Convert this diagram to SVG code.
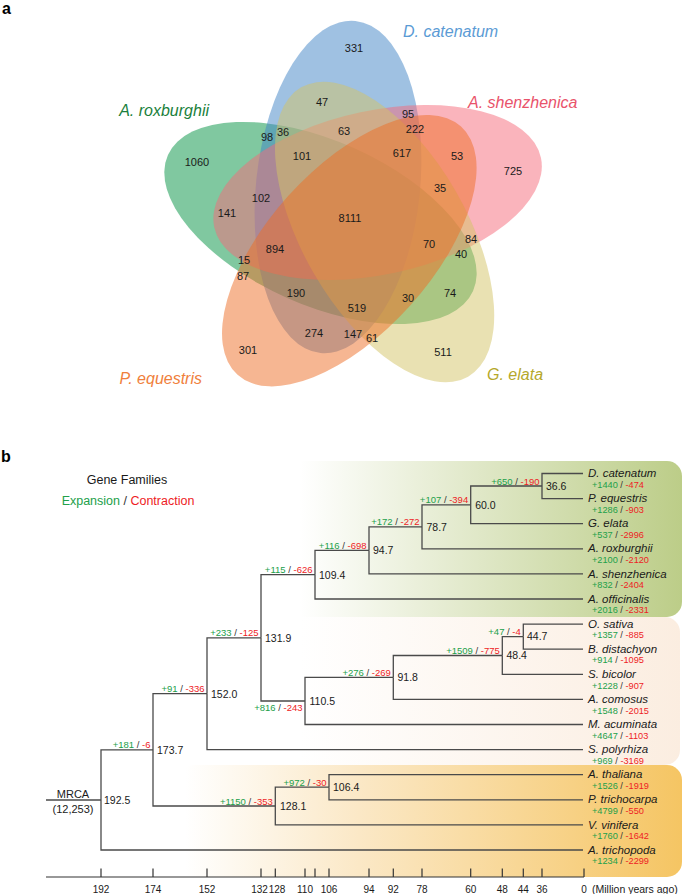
<svg xmlns="http://www.w3.org/2000/svg" width="685" height="894" viewBox="0 0 685 894">
<style>
text{font-family:"Liberation Sans",Arial,sans-serif;}
.pl{font-weight:bold;font-size:16px;fill:#000;}
.vl{font-style:italic;font-size:16px;}
.vn{font-size:11px;fill:#1a1a1a;text-anchor:middle;}
.el{fill-opacity:0.5;stroke:none;}
.br{fill:none;stroke:#4a4a4a;stroke-width:1.3;}
.nv{font-size:10.5px;fill:#1a1a1a;}
.bl{font-size:9.5px;text-anchor:end;}
.tip{font-size:11.5px;font-style:italic;fill:#1a1a1a;}
.st{font-size:9.2px;}
.g{fill:#22a04a;}
.r{fill:#ee1c25;}
.k{fill:#333;}
.ax{fill:none;stroke:#333;stroke-width:1.2;}
.tk{font-size:10px;fill:#1a1a1a;text-anchor:middle;}
</style>
<defs>
<linearGradient id="gGreen" gradientUnits="userSpaceOnUse" x1="300" y1="0" x2="682" y2="0">
<stop offset="0" stop-color="#ffffff"/>
<stop offset="1" stop-color="#bccd88"/>
</linearGradient>
<linearGradient id="gPeach" gradientUnits="userSpaceOnUse" x1="300" y1="0" x2="682" y2="0">
<stop offset="0" stop-color="#ffffff"/>
<stop offset="1" stop-color="#fbede0"/>
</linearGradient>
<linearGradient id="gOrange" gradientUnits="userSpaceOnUse" x1="185" y1="0" x2="682" y2="0">
<stop offset="0" stop-color="#ffffff"/>
<stop offset="0.35" stop-color="#fbe8c6"/>
<stop offset="1" stop-color="#f5c563"/>
</linearGradient>
</defs>
<rect width="685" height="894" fill="#ffffff"/>

<!-- panel a -->
<text class="pl" x="2" y="14" font-size="15">a</text>
<g id="venn">
<g id="set-roxburghii">
<ellipse class="el" fill="#019141" cx="320.5" cy="223" rx="82" ry="167" transform="rotate(-66 320.5 223)"/>
<text class="vl" x="209" y="116" text-anchor="end" fill="#1a7f3c">A. roxburghii</text>
</g>
<g id="set-catenatum">
<ellipse class="el" fill="#3f83c5" cx="338" cy="187" rx="82" ry="167" transform="rotate(6 338 187)"/>
<text class="vl" x="403" y="37" fill="#5b9bd5">D. catenatum</text>
</g>
<g id="set-shenzhenica">
<ellipse class="el" fill="#f56979" cx="377.6" cy="192.5" rx="82" ry="167" transform="rotate(78 377.6 192.5)"/>
<text class="vl" x="468" y="108" fill="#e9536b">A. shenzhenica</text>
</g>
<g id="set-elata">
<ellipse class="el" fill="#d3c365" cx="384.6" cy="232" rx="82" ry="167" transform="rotate(150 384.6 232)"/>
<text class="vl" x="487" y="380" fill="#b5a82b">G. elata</text>
</g>
<g id="set-equestris">
<ellipse class="el" fill="#ed6d26" cx="349.3" cy="250.7" rx="82" ry="167" transform="rotate(222 349.3 250.7)"/>
<text class="vl" x="202" y="384" text-anchor="end" fill="#f0803c">P. equestris</text>
</g>
<g id="venn-counts">
<text class="vn" x="354" y="52">331</text>
<text class="vn" x="322" y="106">47</text>
<text class="vn" x="408" y="118">95</text>
<text class="vn" x="415" y="133">222</text>
<text class="vn" x="267" y="141">98</text>
<text class="vn" x="283" y="136">36</text>
<text class="vn" x="344" y="135">63</text>
<text class="vn" x="302" y="160">101</text>
<text class="vn" x="402" y="157">617</text>
<text class="vn" x="457" y="160">53</text>
<text class="vn" x="513" y="175">725</text>
<text class="vn" x="197" y="166">1060</text>
<text class="vn" x="440" y="192">35</text>
<text class="vn" x="261" y="202">102</text>
<text class="vn" x="227" y="217">141</text>
<text class="vn" x="350" y="222">8111</text>
<text class="vn" x="275" y="253">894</text>
<text class="vn" x="429" y="248">70</text>
<text class="vn" x="471" y="243">84</text>
<text class="vn" x="461" y="258">40</text>
<text class="vn" x="244" y="264">15</text>
<text class="vn" x="243" y="280">87</text>
<text class="vn" x="296" y="297">190</text>
<text class="vn" x="450" y="297">74</text>
<text class="vn" x="408" y="302">30</text>
<text class="vn" x="357" y="312">519</text>
<text class="vn" x="314" y="337">274</text>
<text class="vn" x="353" y="338">147</text>
<text class="vn" x="372" y="342">61</text>
<text class="vn" x="248" y="354">301</text>
<text class="vn" x="443" y="356">511</text>
</g>
</g>

<!-- panel b -->
<text class="pl" x="1" y="462">b</text>
<g id="backgrounds">
<rect x="180" y="461" width="502" height="156" rx="15" fill="url(#gGreen)"/>
<rect x="180" y="617" width="500" height="148" rx="15" fill="url(#gPeach)"/>
<rect x="180" y="765" width="502" height="112" rx="15" fill="url(#gOrange)"/>
</g>
<g id="legend">
<text x="127" y="483.5" font-size="12.5" text-anchor="middle" fill="#1a1a1a">Gene Families</text>
<text x="128" y="504.5" font-size="12.5" text-anchor="middle"><tspan class="g">Expansion</tspan><tspan class="k"> / </tspan><tspan class="r">Contraction</tspan></text>
</g>

<g id="connectors">
<path class="br" d="M46,800 H101"/>
<path class="br" d="M101,800 V749.9 H153"/>
<path class="br" d="M101,800 V850 H583"/>
<path class="br" d="M153,749.9 V693.7 H207"/>
<path class="br" d="M153,749.9 V806 H275.3"/>
<path class="br" d="M207,693.7 V637.8 H261"/>
<path class="br" d="M207,693.7 V749.6 H583"/>
<path class="br" d="M261,637.8 V574.7 H315"/>
<path class="br" d="M261,637.8 V701 H305"/>
<path class="br" d="M315,574.7 V550.4 H369"/>
<path class="br" d="M315,574.7 V599 H583"/>
<path class="br" d="M369,550.4 V526.9 H422"/>
<path class="br" d="M369,550.4 V573.9 H583"/>
<path class="br" d="M422,526.9 V504.9 H470.7"/>
<path class="br" d="M422,526.9 V548.8 H583"/>
<path class="br" d="M470.7,504.9 V486 H542"/>
<path class="br" d="M470.7,504.9 V523.7 H583"/>
<path class="br" d="M542,486 V473.5 H583"/>
<path class="br" d="M542,486 V498.6 H583"/>
<path class="br" d="M305,701 V677.4 H393.3"/>
<path class="br" d="M305,701 V724.5 H583"/>
<path class="br" d="M393.3,677.4 V655.5 H502.3"/>
<path class="br" d="M393.3,677.4 V699.4 H583"/>
<path class="br" d="M502.3,655.5 V636.6 H523.3"/>
<path class="br" d="M502.3,655.5 V674.3 H583"/>
<path class="br" d="M523.3,636.6 V624.1 H583"/>
<path class="br" d="M523.3,636.6 V649.2 H583"/>
<path class="br" d="M275.3,806 V787.2 H329"/>
<path class="br" d="M275.3,806 V824.9 H583"/>
<path class="br" d="M329,787.2 V774.7 H583"/>
<path class="br" d="M329,787.2 V799.8 H583"/>
</g>

<g id="branch-labels">
<text class="bl" x="150.5" y="748.4"><tspan class="g">+181</tspan><tspan class="k"> / </tspan><tspan class="r">-6</tspan></text>
<text class="bl" x="204.5" y="692.2"><tspan class="g">+91</tspan><tspan class="k"> / </tspan><tspan class="r">-336</tspan></text>
<text class="bl" x="258.5" y="636.3"><tspan class="g">+233</tspan><tspan class="k"> / </tspan><tspan class="r">-125</tspan></text>
<text class="bl" x="312.5" y="573.2"><tspan class="g">+115</tspan><tspan class="k"> / </tspan><tspan class="r">-626</tspan></text>
<text class="bl" x="366.5" y="548.9"><tspan class="g">+116</tspan><tspan class="k"> / </tspan><tspan class="r">-698</tspan></text>
<text class="bl" x="419.5" y="525.4"><tspan class="g">+172</tspan><tspan class="k"> / </tspan><tspan class="r">-272</tspan></text>
<text class="bl" x="468.2" y="503.4"><tspan class="g">+107</tspan><tspan class="k"> / </tspan><tspan class="r">-394</tspan></text>
<text class="bl" x="539.5" y="484.5"><tspan class="g">+650</tspan><tspan class="k"> / </tspan><tspan class="r">-190</tspan></text>
<text class="bl" x="302.5" y="711"><tspan class="g">+816</tspan><tspan class="k"> / </tspan><tspan class="r">-243</tspan></text>
<text class="bl" x="390.8" y="675.9"><tspan class="g">+276</tspan><tspan class="k"> / </tspan><tspan class="r">-269</tspan></text>
<text class="bl" x="499.8" y="654"><tspan class="g">+1509</tspan><tspan class="k"> / </tspan><tspan class="r">-775</tspan></text>
<text class="bl" x="520.8" y="635.1"><tspan class="g">+47</tspan><tspan class="k"> / </tspan><tspan class="r">-4</tspan></text>
<text class="bl" x="272.8" y="804.5"><tspan class="g">+1150</tspan><tspan class="k"> / </tspan><tspan class="r">-353</tspan></text>
<text class="bl" x="326.5" y="785.7"><tspan class="g">+972</tspan><tspan class="k"> / </tspan><tspan class="r">-30</tspan></text>
</g>

<g id="internal-nodes">
<g id="root"><text x="73" y="798" font-size="11" text-anchor="middle" fill="#1a1a1a">MRCA</text><text x="73" y="813" font-size="11" text-anchor="middle" fill="#1a1a1a">(12,253)</text><text class="nv" x="104" y="803.8">192.5</text></g>
<g id="n173"><text class="nv" x="157" y="753.7">173.7</text></g>
<g id="n152"><text class="nv" x="211" y="697.5">152.0</text></g>
<g id="n131"><text class="nv" x="265" y="641.6">131.9</text></g>
<g id="n109"><text class="nv" x="319" y="578.5">109.4</text></g>
<g id="n94"><text class="nv" x="373" y="554.2">94.7</text></g>
<g id="n78"><text class="nv" x="426.5" y="530.7">78.7</text></g>
<g id="n60"><text class="nv" x="475.2" y="508.7">60.0</text></g>
<g id="n36"><text class="nv" x="546" y="489.8">36.6</text></g>
<g id="n110"><text class="nv" x="309.5" y="704.8">110.5</text></g>
<g id="n91"><text class="nv" x="397.5" y="681.2">91.8</text></g>
<g id="n48"><text class="nv" x="506.5" y="659.3">48.4</text></g>
<g id="n44"><text class="nv" x="527" y="640.4">44.7</text></g>
<g id="n128"><text class="nv" x="280" y="809.8">128.1</text></g>
<g id="n106"><text class="nv" x="333" y="791">106.4</text></g>
</g>

<g id="tips">
<g id="t-catenatum"><text class="tip" x="588" y="477.1">D. catenatum</text><text class="st" x="592" y="487.7"><tspan class="g">+1440</tspan><tspan class="k"> / </tspan><tspan class="r">-474</tspan></text></g>
<g id="t-equestris"><text class="tip" x="588" y="502.2">P. equestris</text><text class="st" x="592" y="512.8"><tspan class="g">+1286</tspan><tspan class="k"> / </tspan><tspan class="r">-903</tspan></text></g>
<g id="t-elata"><text class="tip" x="588" y="527.3">G. elata</text><text class="st" x="592" y="537.9"><tspan class="g">+537</tspan><tspan class="k"> / </tspan><tspan class="r">-2996</tspan></text></g>
<g id="t-roxburghii"><text class="tip" x="588" y="552.4">A. roxburghii</text><text class="st" x="592" y="563"><tspan class="g">+2100</tspan><tspan class="k"> / </tspan><tspan class="r">-2120</tspan></text></g>
<g id="t-shenzhenica"><text class="tip" x="588" y="577.5">A. shenzhenica</text><text class="st" x="592" y="588.1"><tspan class="g">+832</tspan><tspan class="k"> / </tspan><tspan class="r">-2404</tspan></text></g>
<g id="t-officinalis"><text class="tip" x="588" y="602.6">A. officinalis</text><text class="st" x="592" y="613.2"><tspan class="g">+2016</tspan><tspan class="k"> / </tspan><tspan class="r">-2331</tspan></text></g>
<g id="t-sativa"><text class="tip" x="588" y="627.7">O. sativa</text><text class="st" x="592" y="638.3"><tspan class="g">+1357</tspan><tspan class="k"> / </tspan><tspan class="r">-885</tspan></text></g>
<g id="t-distachyon"><text class="tip" x="588" y="652.8">B. distachyon</text><text class="st" x="592" y="663.4"><tspan class="g">+914</tspan><tspan class="k"> / </tspan><tspan class="r">-1095</tspan></text></g>
<g id="t-bicolor"><text class="tip" x="588" y="677.9">S. bicolor</text><text class="st" x="592" y="688.5"><tspan class="g">+1228</tspan><tspan class="k"> / </tspan><tspan class="r">-907</tspan></text></g>
<g id="t-comosus"><text class="tip" x="588" y="703">A. comosus</text><text class="st" x="592" y="713.6"><tspan class="g">+1548</tspan><tspan class="k"> / </tspan><tspan class="r">-2015</tspan></text></g>
<g id="t-acuminata"><text class="tip" x="588" y="728.1">M. acuminata</text><text class="st" x="592" y="738.7"><tspan class="g">+4647</tspan><tspan class="k"> / </tspan><tspan class="r">-1103</tspan></text></g>
<g id="t-polyrhiza"><text class="tip" x="588" y="753.2">S. polyrhiza</text><text class="st" x="592" y="763.8"><tspan class="g">+969</tspan><tspan class="k"> / </tspan><tspan class="r">-3169</tspan></text></g>
<g id="t-thaliana"><text class="tip" x="588" y="778.3">A. thaliana</text><text class="st" x="592" y="788.9"><tspan class="g">+1526</tspan><tspan class="k"> / </tspan><tspan class="r">-1919</tspan></text></g>
<g id="t-trichocarpa"><text class="tip" x="588" y="803.4">P. trichocarpa</text><text class="st" x="592" y="814"><tspan class="g">+4799</tspan><tspan class="k"> / </tspan><tspan class="r">-550</tspan></text></g>
<g id="t-vinifera"><text class="tip" x="588" y="828.5">V. vinifera</text><text class="st" x="592" y="839.1"><tspan class="g">+1760</tspan><tspan class="k"> / </tspan><tspan class="r">-1642</tspan></text></g>
<g id="t-trichopoda"><text class="tip" x="588" y="853.6">A. trichopoda</text><text class="st" x="592" y="864.2"><tspan class="g">+1234</tspan><tspan class="k"> / </tspan><tspan class="r">-2299</tspan></text></g>
</g>

<g id="axis">
<path class="ax" d="M46,877 H584 M101,868.5 V877 M153,868.5 V877 M207,868.5 V877 M261,868.5 V877 M275.3,868.5 V877 M305,868.5 V877 M315,868.5 V877 M329,868.5 V877 M369,868.5 V877 M393.3,868.5 V877 M422,868.5 V877 M470.7,868.5 V877 M502.3,868.5 V877 M523.3,868.5 V877 M542,868.5 V877 M584,868.5 V877"/>
<text class="tk" x="101" y="892.5">192</text>
<text class="tk" x="153" y="892.5">174</text>
<text class="tk" x="207" y="892.5">152</text>
<text class="tk" x="259.5" y="892.5">132</text>
<text class="tk" x="277" y="892.5">128</text>
<text class="tk" x="305" y="892.5">110</text>
<text class="tk" x="329" y="892.5">106</text>
<text class="tk" x="369" y="892.5">94</text>
<text class="tk" x="393.3" y="892.5">92</text>
<text class="tk" x="422" y="892.5">78</text>
<text class="tk" x="470.7" y="892.5">60</text>
<text class="tk" x="502.3" y="892.5">48</text>
<text class="tk" x="523.3" y="892.5">44</text>
<text class="tk" x="542" y="892.5">36</text>
<text class="tk" x="584" y="892.5">0</text>
<text x="592" y="892.5" font-size="10.5" fill="#1a1a1a">(Million years ago)</text>
</g>
</svg>
